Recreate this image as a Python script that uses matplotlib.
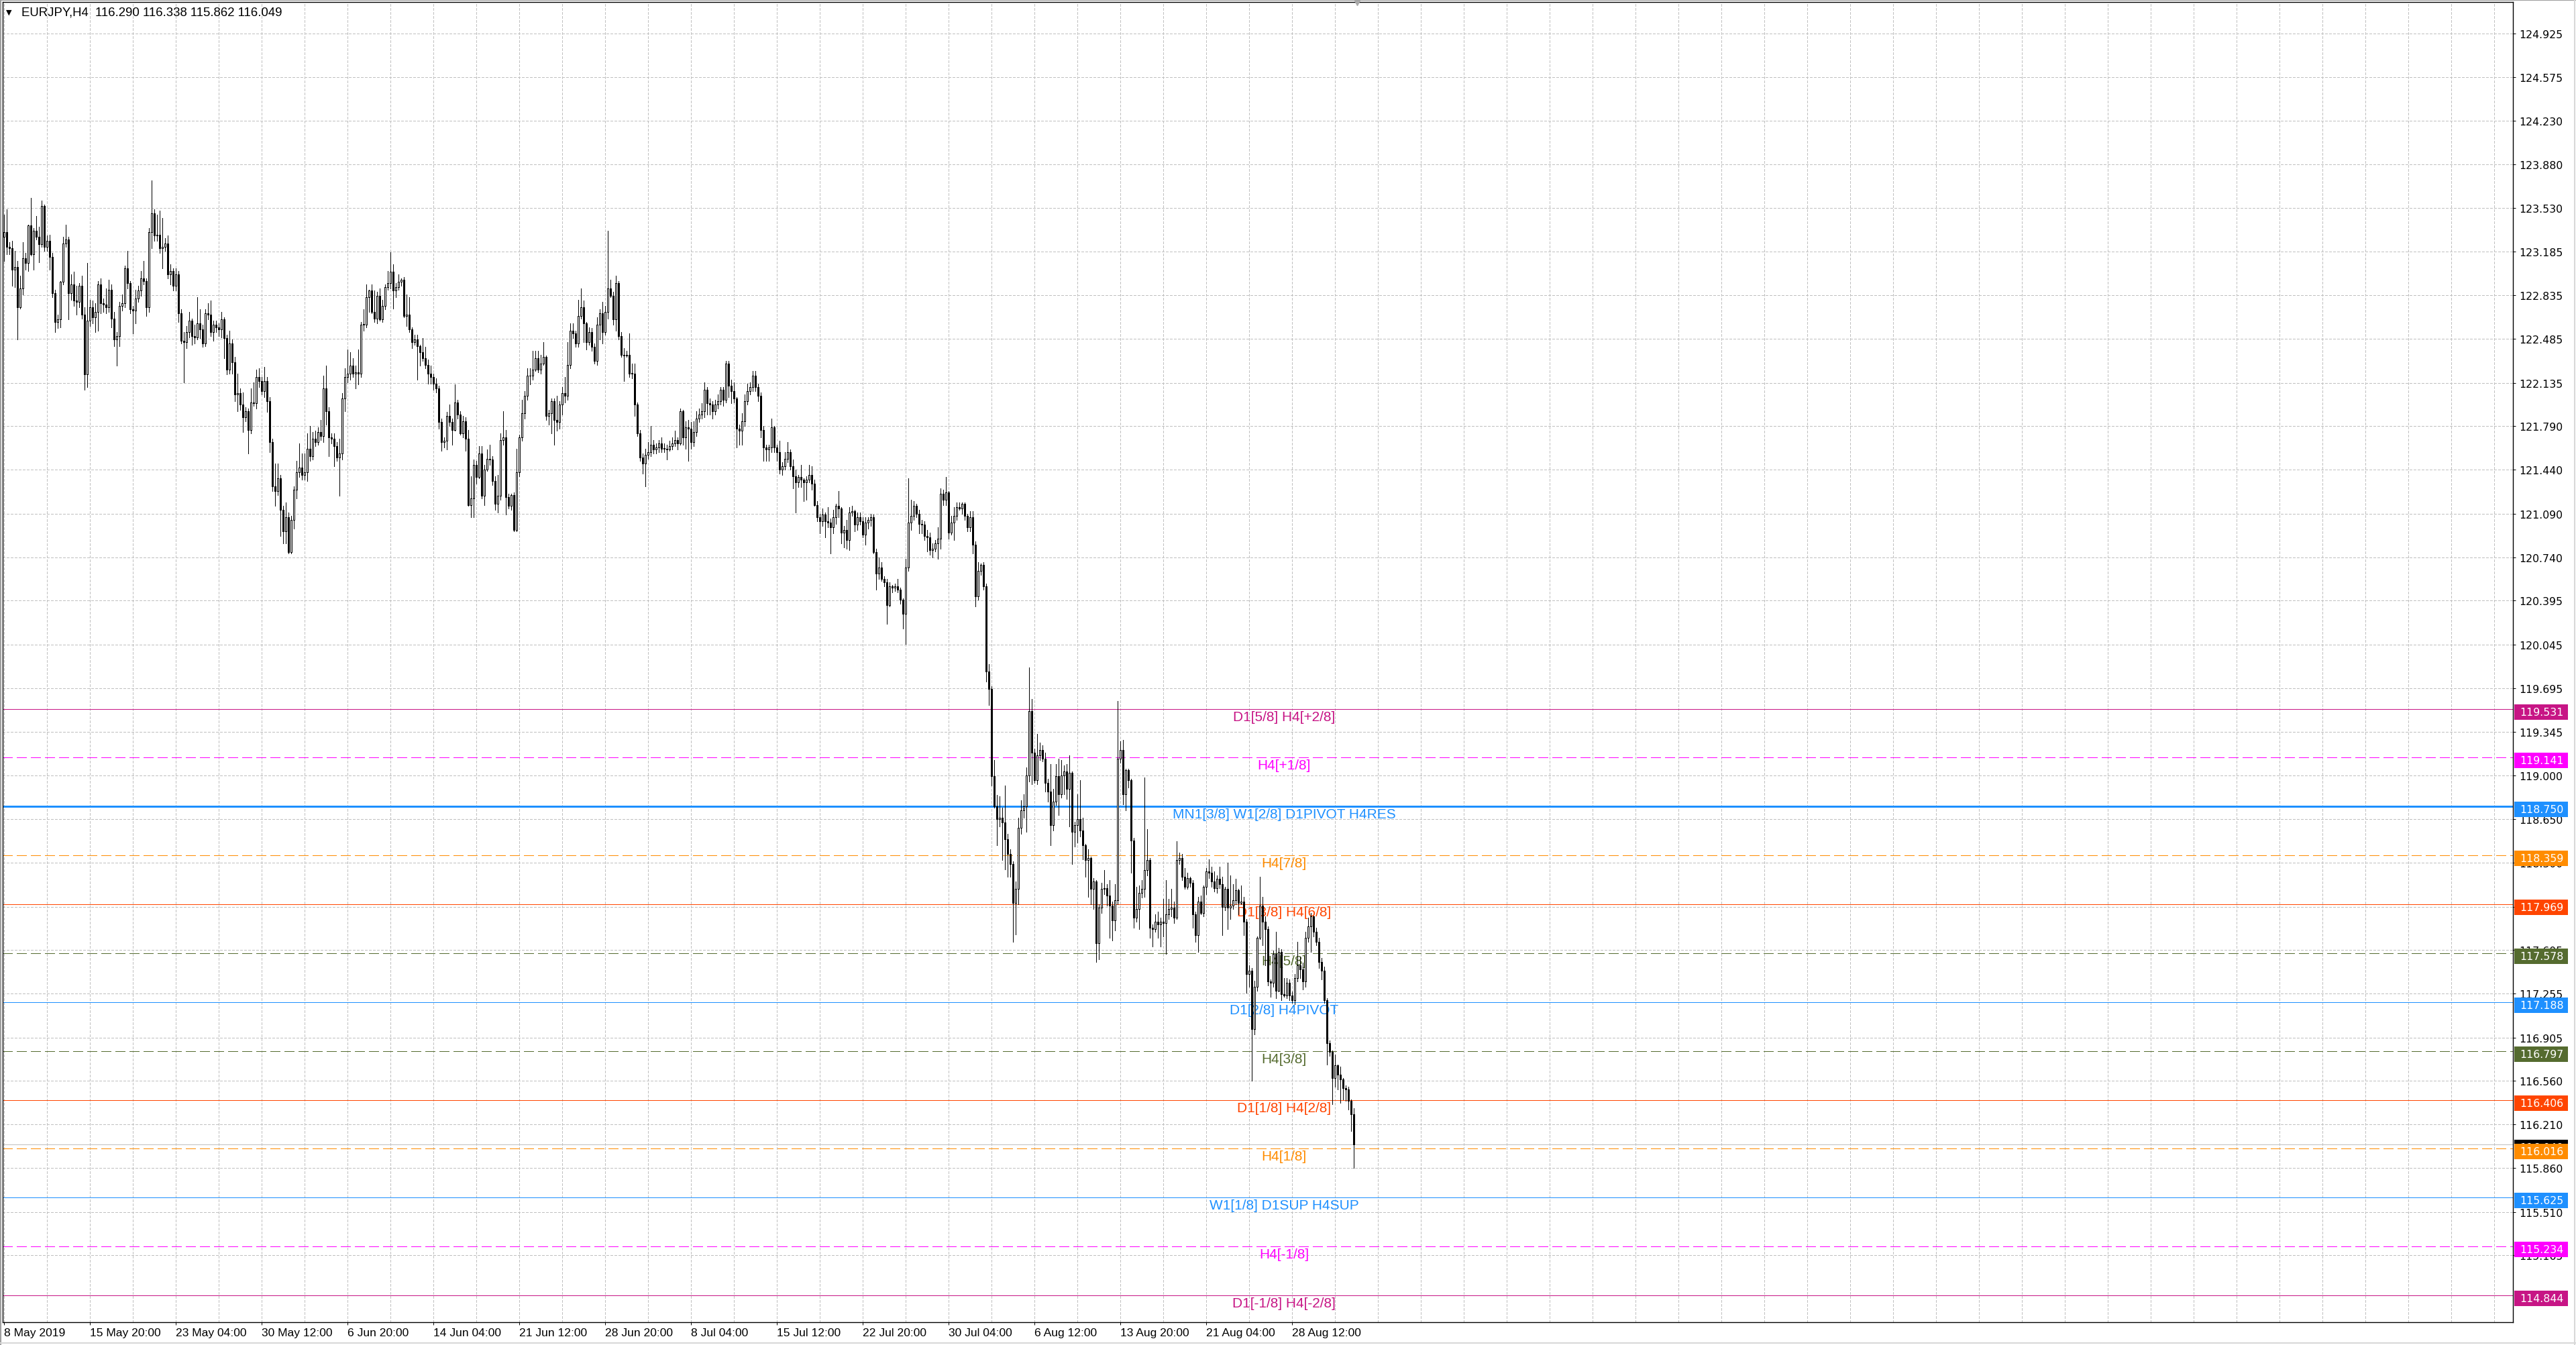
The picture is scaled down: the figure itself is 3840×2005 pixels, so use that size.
import numpy as np
import matplotlib
matplotlib.use("Agg")
import matplotlib.pyplot as plt
from matplotlib.patches import Rectangle
from matplotlib.lines import Line2D
from matplotlib.transforms import blended_transform_factory

# data
symbol = "EURJPY,H4"
last_bar = [116.290, 116.338, 115.862, 116.049]   # O H L C of the newest candle
first_open = 123.30

closes = [
    123.34, 123.22, 123.21, 123.04, 123.06, 122.74, 122.89, 123.13, 123.09, 123.39,
    123.16, 123.35, 123.30, 123.24, 123.55, 123.22, 123.27, 123.14, 122.85, 122.62,
    122.64, 122.94, 123.25, 123.28, 122.85, 122.92, 122.79, 122.78, 122.91, 122.68,
    122.20, 122.63, 122.74, 122.66, 122.70, 122.92, 122.77, 122.76, 122.74, 122.88,
    122.65, 122.48, 122.51, 122.75, 122.77, 123.05, 122.93, 122.72, 122.71, 122.81,
    122.87, 122.97, 122.95, 122.74, 123.34, 123.49, 123.31, 123.32, 123.21, 123.22,
    123.25, 123.00, 123.03, 122.91, 123.00, 122.69, 122.47, 122.46, 122.54, 122.63,
    122.51, 122.50, 122.61, 122.56, 122.45, 122.69, 122.68, 122.54, 122.60, 122.58,
    122.56, 122.64, 122.49, 122.24, 122.45, 122.30, 122.04, 122.05, 121.96, 121.86,
    121.91, 121.76, 121.98, 121.97, 122.18, 122.15, 122.07, 122.15, 121.99, 121.66,
    121.31, 121.27, 121.37, 121.12, 120.95, 121.06, 120.78, 121.04, 121.28, 121.42,
    121.46, 121.40, 121.42, 121.61, 121.55, 121.69, 121.66, 121.74, 121.71, 122.09,
    121.91, 121.70, 121.69, 121.63, 121.54, 121.57, 122.01, 122.18, 122.21, 122.27,
    122.21, 122.22, 122.21, 122.60, 122.60, 122.82, 122.87, 122.70, 122.65, 122.83,
    122.64, 122.75, 122.90, 122.93, 123.02, 122.87, 122.90, 122.94, 122.96, 122.67,
    122.68, 122.56, 122.46, 122.48, 122.43, 122.38, 122.33, 122.28, 122.21, 122.18,
    122.13, 122.09, 121.82, 121.66, 121.67, 121.87, 121.82, 121.76, 121.98, 121.88,
    121.73, 121.83, 121.69, 121.16, 121.21, 121.48, 121.38, 121.57, 121.23, 121.44,
    121.53, 121.52, 121.35, 121.17, 121.23, 121.68, 121.70, 121.22, 121.15, 121.24,
    120.96, 121.42, 121.70, 121.89, 122.03, 122.19, 122.19, 122.24, 122.33, 122.24,
    122.29, 122.34, 121.87, 121.89, 121.99, 121.84, 121.82, 121.96, 122.05, 122.03,
    122.28, 122.55, 122.53, 122.45, 122.67, 122.74, 122.61, 122.46, 122.54, 122.42,
    122.31, 122.60, 122.69, 122.54, 122.70, 122.89, 122.83, 122.64, 122.93, 122.51,
    122.36, 122.35, 122.36, 122.21, 122.21, 121.96, 121.73, 121.54, 121.49, 121.56,
    121.58, 121.64, 121.60, 121.62, 121.65, 121.61, 121.61, 121.60, 121.63, 121.65,
    121.68, 121.65, 121.91, 121.70, 121.78, 121.77, 121.66, 121.74, 121.85, 121.88,
    121.91, 122.08, 121.97, 121.96, 121.91, 121.96, 121.99, 122.08, 122.00, 122.29,
    122.11, 122.07, 122.01, 121.77, 121.75, 121.83, 121.99, 122.07, 122.10, 122.19,
    122.10, 122.03, 121.76, 121.62, 121.60, 121.62, 121.78, 121.62, 121.58, 121.44,
    121.47, 121.53, 121.58, 121.47, 121.39, 121.34, 121.38, 121.36, 121.34, 121.36,
    121.40, 121.33, 121.16, 121.06, 121.03, 121.08, 121.03, 121.02, 120.98, 121.06,
    121.15, 121.13, 120.94, 120.96, 120.88, 121.10, 121.11, 121.00, 121.06, 121.03,
    120.92, 121.02, 121.04, 121.06, 120.78, 120.61, 120.66, 120.57, 120.54, 120.36,
    120.51, 120.50, 120.51, 120.48, 120.40, 120.29, 120.66, 121.02, 121.07, 121.15,
    121.09, 121.01, 121.00, 120.91, 120.90, 120.80, 120.81, 120.85, 120.89, 121.25,
    121.20, 121.26, 120.94, 121.02, 121.07, 121.14, 121.13, 121.17, 121.07, 120.98,
    121.06, 120.84, 120.43, 120.63, 120.68, 120.51, 119.83, 119.69, 118.99, 118.75,
    118.65, 118.66, 118.62, 118.49, 118.37, 118.29, 117.98, 118.09, 118.58, 118.72,
    118.75, 119.00, 119.51, 119.18, 118.96, 119.16, 119.20, 119.13, 118.94, 118.87,
    118.60, 118.79, 118.99, 118.85, 119.00, 119.03, 118.89, 119.02, 118.55, 118.60,
    118.65, 118.56, 118.44, 118.32, 118.34, 118.09, 118.15, 117.66, 117.94, 118.09,
    118.10, 118.04, 117.96, 117.84, 118.00, 119.13, 119.20, 118.85, 119.04, 118.96,
    118.48, 117.86, 117.93, 118.06, 118.09, 118.24, 118.32, 117.78, 117.77, 117.83,
    117.81, 117.83, 117.82, 117.89, 117.93, 117.94, 117.86, 118.32, 118.34, 118.19,
    118.11, 118.18, 118.14, 117.89, 117.72, 117.99, 117.90, 118.11, 118.23, 118.22,
    118.15, 118.10, 118.17, 118.13, 117.95, 118.09, 117.94, 117.96, 118.00, 118.08,
    117.98, 117.99, 117.83, 117.41, 117.44, 116.97, 117.31, 117.70, 117.96, 117.83,
    117.77, 117.35, 117.34, 117.57, 117.28, 117.59, 117.25, 117.24, 117.34, 117.24,
    117.20, 117.38, 117.48, 117.45, 117.35, 117.70, 117.79, 117.87, 117.75, 117.67,
    117.51, 117.44, 117.20, 116.86, 116.79, 116.58, 116.68, 116.61, 116.57, 116.50,
    116.49, 116.40, 116.29, 116.049,
]

# wick length above / below the body, in hundredths of a yen
up_wick = [
    14, 18, 4, 6, 13, 5, 10, 13, 4, 1,
    22, 2, 12, 8, 4, 1, 4, 5, 3, 3,
    4, 1, 5, 12, 2, 8, 10, 12, 2, 8,
    6, 46, 6, 5, 7, 3, 5, 4, 13, 8,
    4, 5, 3, 3, 7, 2, 14, 2, 3, 7,
    4, 6, 14, 2, 3, 26, 3, 16, 19, 23,
    4, 6, 5, 2, 5, 3, 3, 7, 5, 7,
    2, 9, 21, 11, 4, 3, 8, 11, 3, 3,
    3, 6, 2, 3, 10, 3, 4, 16, 4, 10,
    3, 2, 11, 16, 6, 7, 3, 11, 3, 3,
    3, 18, 12, 3, 3, 12, 4, 3, 3, 9,
    19, 11, 15, 12, 18, 5, 6, 4, 10, 10,
    18, 3, 3, 4, 3, 12, 4, 7, 19, 11,
    6, 5, 18, 2, 12, 10, 1, 5, 17, 3,
    6, 5, 2, 10, 16, 6, 3, 6, 1, 2,
    16, 14, 2, 4, 4, 1, 11, 9, 4, 6,
    3, 4, 2, 3, 3, 3, 9, 3, 14, 2,
    3, 4, 3, 7, 18, 4, 3, 6, 6, 4,
    7, 11, 3, 4, 17, 5, 21, 6, 3, 1,
    2, 19, 2, 11, 4, 6, 6, 15, 6, 6,
    7, 12, 1, 3, 2, 2, 19, 3, 5, 13,
    18, 6, 6, 2, 13, 15, 5, 1, 4, 3,
    3, 6, 3, 9, 5, 46, 7, 3, 6, 2,
    3, 5, 3, 17, 8, 8, 2, 3, 3, 5,
    8, 15, 4, 3, 3, 5, 4, 3, 4, 5,
    7, 2, 2, 1, 5, 6, 5, 9, 6, 5,
    6, 6, 2, 4, 3, 4, 5, 2, 2, 2,
    2, 5, 7, 1, 3, 6, 5, 6, 4, 4,
    4, 3, 3, 3, 2, 2, 7, 1, 2, 9,
    3, 5, 8, 2, 5, 5, 2, 10, 1, 3,
    8, 7, 3, 3, 3, 5, 2, 11, 3, 6,
    2, 12, 1, 3, 8, 4, 4, 1, 4, 4,
    3, 4, 2, 3, 2, 3, 8, 4, 2, 3,
    3, 1, 2, 6, 2, 1, 7, 35, 13, 4,
    2, 3, 3, 3, 5, 4, 4, 3, 9, 4,
    3, 12, 1, 5, 7, 4, 4, 1, 1, 2,
    5, 5, 3, 7, 1, 2, 2, 6, 2, 13,
    9, 17, 8, 30, 4, 4, 2, 6, 8, 8,
    10, 6, 35, 10, 3, 17, 6, 4, 5, 3,
    22, 10, 10, 14, 12, 5, 6, 14, 1, 3,
    20, 31, 10, 1, 7, 1, 3, 1, 3, 5,
    14, 3, 12, 3, 13, 46, 7, 8, 1, 1,
    1, 2, 18, 6, 7, 74, 25, 2, 3, 6,
    8, 3, 18, 27, 8, 15, 5, 15, 4, 3,
    7, 4, 1, 2, 2, 4, 5, 1, 3, 10,
    5, 8, 3, 10, 6, 2, 21, 24, 13, 9,
    1, 13, 4, 2, 4, 2, 5, 1, 23, 7,
    4, 2, 2, 3, 18, 3, 2, 13, 4, 3,
    3, 3, 19, 7, 5, 5, 7, 3, 1, 3,
    3, 3, 3, 2, 2, 1, 9, 1, 6, 1,
    2, 2, 1, 4.8,
]

down_wick = [
    19, 6, 5, 13, 14, 26, 1, 5, 5, 6,
    1, 12, 2, 14, 2, 3, 3, 10, 3, 8,
    5, 6, 2, 3, 21, 5, 4, 10, 4, 3,
    12, 10, 4, 5, 12, 15, 8, 6, 5, 4,
    7, 5, 21, 8, 4, 3, 4, 3, 18, 10,
    3, 4, 3, 7, 4, 13, 4, 4, 4, 16,
    3, 3, 8, 4, 4, 7, 2, 32, 5, 4,
    7, 5, 2, 7, 3, 2, 4, 3, 7, 4,
    5, 6, 16, 4, 3, 9, 5, 13, 4, 12,
    3, 19, 3, 2, 4, 5, 3, 5, 9, 8,
    4, 12, 3, 21, 10, 10, 1, 1, 7, 7,
    4, 4, 4, 7, 4, 3, 3, 2, 3, 5,
    11, 15, 4, 16, 3, 31, 5, 10, 4, 5,
    3, 12, 9, 3, 5, 2, 12, 1, 3, 4,
    1, 2, 3, 2, 4, 14, 5, 2, 3, 1,
    8, 2, 5, 2, 27, 11, 2, 3, 8, 5,
    5, 3, 5, 7, 4, 7, 3, 12, 1, 3,
    1, 3, 10, 1, 10, 15, 5, 1, 2, 7,
    1, 4, 3, 5, 7, 3, 4, 14, 2, 3,
    1, 1, 3, 3, 4, 3, 7, 3, 1, 2,
    3, 1, 3, 7, 16, 20, 7, 5, 8, 5,
    3, 3, 4, 3, 3, 2, 15, 6, 2, 3,
    2, 3, 12, 9, 2, 5, 1, 4, 9, 3,
    2, 20, 1, 3, 4, 9, 2, 3, 8, 18,
    3, 3, 3, 3, 4, 3, 3, 8, 1, 3,
    2, 5, 1, 6, 9, 26, 5, 3, 3, 3,
    3, 5, 9, 8, 6, 3, 3, 3, 5, 2,
    9, 10, 3, 15, 11, 11, 4, 3, 3, 3,
    3, 4, 6, 11, 9, 9, 4, 4, 7, 3,
    4, 3, 3, 3, 10, 24, 4, 6, 15, 14,
    2, 5, 1, 3, 10, 4, 13, 4, 21, 5,
    5, 7, 9, 12, 7, 8, 3, 5, 4, 3,
    2, 8, 5, 5, 1, 13, 4, 2, 3, 15,
    1, 4, 3, 2, 3, 12, 24, 3, 6, 3,
    3, 8, 7, 3, 11, 4, 6, 2, 12, 8,
    4, 4, 5, 2, 14, 3, 1, 4, 3, 3,
    3, 7, 8, 3, 3, 3, 8, 13, 7, 1,
    21, 6, 30, 24, 18, 10, 31, 25, 12, 5,
    6, 20, 5, 25, 2, 3, 4, 2, 7, 8,
    16, 4, 3, 17, 3, 15, 8, 30, 26, 12,
    14, 5, 11, 13, 29, 12, 16, 15, 13, 4,
    4, 8, 26, 16, 8, 3, 3, 8, 13, 6,
    26, 8, 3, 16, 4, 6, 4, 8, 14, 2,
    11, 18, 11, 25, 4, 6, 4, 1, 3, 3,
    2, 2, 3, 11, 5, 13, 1, 3, 6, 4,
    4, 3, 4, 3, 23, 3, 17, 9, 3, 3,
    9, 1, 11, 15, 10, 41, 4, 3, 1, 19,
    29, 3, 11, 3, 6, 1, 5, 1, 2, 4,
    2, 3, 3, 7, 6, 4, 3, 20, 4, 3,
    5, 7, 2, 17, 3, 21, 7, 12, 19, 9,
    9, 7, 13, 18.7,
]

time_labels = ["8 May 2019", "15 May 20:00", "23 May 04:00", "30 May 12:00",
               "6 Jun 20:00", "14 Jun 04:00", "21 Jun 12:00", "28 Jun 20:00",
               "8 Jul 04:00", "15 Jul 12:00", "22 Jul 20:00", "30 Jul 04:00",
               "6 Aug 12:00", "13 Aug 20:00", "21 Aug 04:00", "28 Aug 12:00"]
bars_per_label = 32

price_ticks = [124.925, 124.575, 124.230, 123.880, 123.530, 123.185, 122.835,
               122.485, 122.135, 121.790, 121.440, 121.090, 120.740, 120.395,
               120.045, 119.695, 119.345, 119.000, 118.650, 118.300, 117.950,
               117.605, 117.255, 116.905, 116.560, 116.210, 115.860, 115.510,
               115.165]

level_prices = [119.531, 119.141, 118.750, 118.359, 117.969, 117.578, 117.188,
                116.797, 116.406, 116.016, 115.625, 115.234, 114.844]
level_names = ["D1[5/8] H4[+2/8]", "H4[+1/8]", "MN1[3/8] W1[2/8] D1PIVOT H4RES",
               "H4[7/8]", "D1[3/8] H4[6/8]", "H4[5/8]", "D1[2/8] H4PIVOT",
               "H4[3/8]", "D1[1/8] H4[2/8]", "H4[1/8]", "W1[1/8] D1SUP H4SUP",
               "H4[-1/8]", "D1[-1/8] H4[-2/8]"]
level_colors = ["#C71585", "#FF00FF", "#1E90FF", "#FF8C00", "#FF4500", "#556B2F",
                "#1E90FF", "#556B2F", "#FF4500", "#FF8C00", "#1E90FF", "#FF00FF",
                "#C71585"]
level_dashed = [False, True, False, True, False, True, False, True, False, True,
                False, True, False]
level_thick = [False, False, True, False, False, False, False, False, False, False,
               False, False, False]

# ---- figure geometry (pixels) ----
W, H = 3840, 2006
L, R, T, B = 4, 3746, 4, 1972
fig = plt.figure(figsize=(W / 100, H / 100), dpi=100, facecolor="white")
ax = fig.add_axes([L / W, 1 - B / H, (R - L) / W, (B - T) / H])
xmin = -0.5
xmax = xmin + (R - L) / 4.0
ymin, ymax = 114.630, 125.177
ax.set_xlim(xmin, xmax)
ax.set_ylim(ymin, ymax)
ppp = (ymax - ymin) / (B - T)
one_px = 0.7   # line width in points that renders as a single pixel

# ---- candles ----
c = np.array(closes)
o = np.array([first_open] + closes[:-1])
hi = np.maximum(o, c) + np.array(up_wick) / 100.0
lo = np.minimum(o, c) - np.array(down_wick) / 100.0
x = np.arange(len(c))
bull = c >= o
bottom = np.minimum(o, c)
height = np.maximum(np.abs(c - o), ppp * 0.8)

ax.vlines(x, lo, hi, color="black", lw=one_px, zorder=4, antialiased=False)
ax.bar(x[bull], height[bull], bottom=bottom[bull], width=0.72, facecolor="white",
       edgecolor="black", linewidth=one_px, zorder=5, antialiased=False)
ax.bar(x[~bull], height[~bull], bottom=bottom[~bull], width=0.72, facecolor="black",
       edgecolor="black", linewidth=one_px, zorder=5, antialiased=False)

# ---- grid and axes ----
grid_style = dict(color="#C0C0C0", lw=one_px, ls=(0, (4, 3)), antialiased=False)
ax.set_xticks(np.arange(len(time_labels)) * bars_per_label)
ax.set_xticklabels(time_labels)
ax.set_xticks(np.arange(16, xmax, 16), minor=True)
ax.grid(True, which="both", axis="x", **grid_style)
ax.set_yticks(price_ticks)
ax.set_yticklabels([f"{v:.3f}" for v in price_ticks])
ax.grid(True, which="major", axis="y", **grid_style)
ax.set_axisbelow(True)

ax.tick_params(axis="x", which="major", length=3, width=one_px, pad=2.5,
               labelsize=12.6, direction="out")
ax.tick_params(axis="x", which="minor", length=0)
for lab in ax.get_xticklabels():
    lab.set_horizontalalignment("left")
    lab.set_fontfamily("Liberation Sans")
ax.yaxis.tick_right()
ax.tick_params(axis="y", length=3, width=one_px, pad=4, labelsize=11.3)
for sp in ax.spines.values():
    sp.set_linewidth(1.0)
    sp.set_color("black")

# ---- bid line ----
bid = last_bar[3]
ax.axhline(bid, color="#C0C0C0", lw=one_px, zorder=2, antialiased=False)

# ---- Murrey levels ----
label_bar = 477
trans = blended_transform_factory(ax.transAxes, ax.transData)
box_x = (3748 - L) / (R - L)
box_w = 80 / (R - L)
box_h = 23 * ppp
box_shift = 4.5 * ppp
text_x = (3789 - L) / (R - L)

# black bid box sits behind the level boxes
ax.add_patch(Rectangle((box_x, bid - box_shift - box_h / 2), box_w, box_h,
                       transform=trans, facecolor="black", edgecolor="none",
                       clip_on=False, zorder=9.5))
ax.text(text_x, bid - box_shift, f"{bid:.3f}", transform=trans, color="white",
        ha="center", va="center", fontsize=11.3, clip_on=False, zorder=9.6)

for p, name, col, dashed, thick in zip(level_prices, level_names, level_colors,
                                       level_dashed, level_thick):
    ls = (0, (15, 7)) if dashed else "-"
    ax.axhline(p, color=col, lw=2.0 if thick else one_px, ls=ls, zorder=2.2,
               antialiased=False)
    ax.annotate(name, xy=(label_bar, p), xytext=(0, -2), textcoords="offset pixels",
                ha="center", va="top", color=col, fontsize=15,
                family="Liberation Sans", zorder=3)
    ax.add_patch(Rectangle((box_x, p - box_shift - box_h / 2), box_w, box_h,
                           transform=trans, facecolor=col, edgecolor="none",
                           clip_on=False, zorder=10))
    ax.text(text_x, p - box_shift, f"{p:.3f}", transform=trans, color="white",
            ha="center", va="center", fontsize=11.3, clip_on=False, zorder=10.5)

# ---- header and window decoration ----
header = symbol + "  " + " ".join(f"{v:.3f}" for v in last_bar)
fig.text(32 / W, 1 - 19 / H, header, fontsize=13.4, family="Liberation Sans",
         ha="left", va="center")
fig.text(9 / W, 1 - 19 / H, "\u25BC", fontsize=8, ha="left", va="center")
fig.add_artist(Line2D([2023 / W], [1 - 3 / H], marker="v", markersize=8,
                      color="#A8A8A8", transform=fig.transFigure))
fig.add_artist(Line2D([0, 1], [1 - 1 / H, 1 - 1 / H], color="#A0A0A0", lw=1.5,
                      transform=fig.transFigure))
fig.add_artist(Line2D([1 / W, 1 / W], [0, 1], color="#A0A0A0", lw=1.5,
                      transform=fig.transFigure))
fig.add_artist(Line2D([0, 1], [3 / H, 3 / H], color="#D8D8D8", lw=1.5,
                      transform=fig.transFigure))
fig.add_artist(Line2D([1 - 2 / W, 1 - 2 / W], [0, 1], color="#D8D8D8", lw=1.5,
                      transform=fig.transFigure))

fig.savefig("out.png", dpi=100, facecolor="white")
